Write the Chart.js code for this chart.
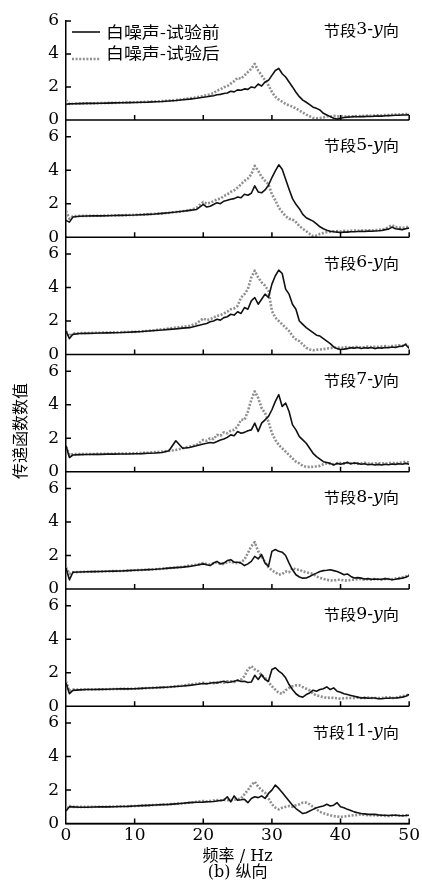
<!DOCTYPE html>
<html>
<head>
<meta charset="utf-8">
<script src="https://cdn.jsdelivr.net/npm/chart.js@4.4.0/dist/chart.umd.min.js"></script>
<style>
  html, body { margin: 0; padding: 0; background: #fff; }
  #grafico { position: relative; width: 422px; height: 887px; }
</style>
</head>
<body>
<div id="grafico"><canvas id="myChart"></canvas></div>
<script>
// frecuencias (Hz)
const freq = [0,0.5,1,2,3,4,5,6,7,8,9,10,11,12,13,14,15,16,17,18,19,20,
  20.5,21,21.5,22,22.5,23,23.5,24,24.5,25,
  25.5,26,26.5,27,27.5,28,28.5,29,29.5,30,
  30.5,31,31.5,32,32.5,33,33.5,34,34.5,35,
  35.5,36,36.5,37,37.5,38,38.5,39,39.5,40,
  40.5,41,41.5,42,42.5,43,43.5,44,44.5,45,
  45.5,46,46.5,47,47.5,48,48.5,49,49.5,50];

const panelNums = ["3", "5", "6", "7", "8", "9", "11"];
const legendLabels = ["白噪声-试验前", "白噪声-试验后"];
const xTicks = [0, 10, 20, 30, 40, 50];
const yTicks = [0, 2, 4, 6];

// 节段3
const s3Before = [0.95,0.97,0.98,0.99,1.0,1.0,1.01,1.02,1.03,1.04,1.05,1.06,1.07,1.08,1.1,1.12,1.15,1.18,1.22,1.26,1.31,1.37,
  1.4,1.44,1.47,1.53,1.55,1.6,1.63,1.74,1.7,1.82,
  1.8,1.88,1.85,2.0,1.95,2.18,2.05,2.3,2.4,2.7,
  3.0,3.13,2.8,2.6,2.3,2.0,1.68,1.41,1.2,1.07,
  0.93,0.77,0.7,0.6,0.4,0.3,0.2,0.1,0.06,0.1,
  0.15,0.17,0.18,0.2,0.19,0.21,0.2,0.22,0.21,0.23,
  0.24,0.23,0.25,0.26,0.27,0.28,0.28,0.3,0.3,0.32];
const s3After = [1.2,0.97,0.98,1.0,1.0,1.01,1.02,1.03,1.03,1.05,1.06,1.07,1.08,1.1,1.12,1.14,1.17,1.2,1.25,1.3,1.36,1.45,
  1.5,1.55,1.62,1.78,1.85,1.98,2.05,2.2,2.35,2.55,
  2.5,2.7,2.9,3.1,3.4,3.0,2.7,2.4,2.1,1.7,
  1.4,1.23,1.1,0.97,0.88,0.8,0.7,0.57,0.45,0.32,
  0.22,0.12,0.1,0.12,0.15,0.22,0.2,0.25,0.2,0.22,
  0.21,0.2,0.22,0.22,0.24,0.23,0.25,0.26,0.25,0.27,
  0.28,0.27,0.3,0.29,0.31,0.32,0.33,0.34,0.35,0.36];

// 节段5
const s5Before = [1.0,0.9,1.2,1.25,1.26,1.27,1.27,1.28,1.29,1.3,1.31,1.32,1.34,1.36,1.38,1.42,1.46,1.5,1.55,1.6,1.65,1.96,
  1.8,1.85,1.95,2.06,2.0,2.15,2.2,2.26,2.3,2.4,
  2.35,2.56,2.5,2.62,3.06,2.7,2.65,2.82,3.1,3.56,
  3.96,4.32,4.06,3.46,2.86,2.3,1.96,1.7,1.36,1.16,
  1.06,0.96,0.8,0.62,0.5,0.42,0.35,0.32,0.3,0.28,
  0.3,0.3,0.32,0.32,0.34,0.35,0.34,0.36,0.35,0.37,
  0.38,0.4,0.45,0.48,0.6,0.5,0.48,0.45,0.5,0.55];
const s5After = [1.56,1.1,1.25,1.27,1.27,1.28,1.28,1.29,1.3,1.31,1.32,1.33,1.35,1.37,1.4,1.42,1.45,1.5,1.55,1.6,1.75,2.1,
  2.0,2.05,2.15,2.26,2.3,2.46,2.55,2.7,2.8,2.96,
  3.16,3.36,3.5,3.76,4.26,3.96,3.6,3.36,3.16,2.56,
  2.2,1.76,1.5,1.26,1.1,1.06,0.9,0.66,0.5,0.36,
  0.2,0.06,0.1,0.2,0.25,0.3,0.32,0.35,0.36,0.35,
  0.38,0.36,0.38,0.4,0.38,0.4,0.4,0.42,0.4,0.42,
  0.43,0.45,0.5,0.6,0.72,0.6,0.58,0.55,0.6,0.6];

// 节段6
const s6Before = [1.4,0.95,1.2,1.25,1.26,1.27,1.28,1.29,1.3,1.31,1.33,1.35,1.37,1.4,1.43,1.46,1.5,1.53,1.57,1.6,1.7,1.8,
  1.85,1.95,2.0,2.1,2.05,2.2,2.25,2.4,2.35,2.55,
  2.45,2.8,2.7,3.2,3.4,3.0,3.3,3.6,3.4,4.2,
  4.7,5.03,4.83,3.9,3.6,3.0,2.7,2.0,1.8,1.6,
  1.45,1.3,1.15,1.1,0.95,0.8,0.65,0.45,0.35,0.3,
  0.32,0.35,0.4,0.38,0.42,0.36,0.4,0.38,0.42,0.35,
  0.4,0.38,0.42,0.4,0.45,0.42,0.48,0.5,0.6,0.35];
const s6After = [1.4,1.1,1.25,1.27,1.28,1.29,1.3,1.31,1.32,1.33,1.34,1.35,1.38,1.41,1.45,1.5,1.55,1.6,1.65,1.7,1.85,2.15,
  2.05,2.1,2.2,2.3,2.35,2.45,2.55,2.7,2.75,2.9,
  3.4,3.6,3.9,4.6,5.0,4.6,4.3,4.1,3.8,2.6,
  2.2,2.0,1.8,1.6,1.4,1.1,0.9,0.8,0.6,0.4,
  0.3,0.25,0.28,0.3,0.32,0.35,0.38,0.4,0.42,0.4,
  0.42,0.45,0.4,0.44,0.46,0.42,0.45,0.48,0.44,0.46,
  0.45,0.48,0.5,0.46,0.5,0.52,0.55,0.5,0.6,0.5];

// 节段7
const s7Before = [1.55,0.85,1.0,1.02,1.03,1.04,1.04,1.05,1.05,1.06,1.06,1.07,1.08,1.1,1.12,1.15,1.25,1.85,1.4,1.45,1.55,1.66,
  1.7,1.75,1.72,1.8,1.9,1.95,2.05,2.2,2.15,2.4,
  2.3,2.35,2.45,2.5,2.9,2.4,2.9,3.1,3.3,3.7,
  4.2,4.6,3.9,4.1,3.6,2.8,2.5,2.1,1.9,1.7,
  1.4,1.1,0.9,0.75,0.6,0.55,0.5,0.4,0.5,0.45,
  0.5,0.55,0.48,0.52,0.5,0.45,0.48,0.42,0.45,0.4,
  0.44,0.4,0.45,0.42,0.46,0.44,0.48,0.45,0.5,0.45];
const s7After = [1.5,1.0,1.05,1.05,1.06,1.06,1.07,1.07,1.08,1.09,1.09,1.1,1.12,1.14,1.17,1.2,1.25,1.3,1.4,1.5,1.6,1.9,
  1.85,2.0,1.95,2.2,2.15,2.35,2.3,2.45,2.5,2.7,
  3.1,3.1,3.6,4.3,4.8,4.4,3.8,3.5,3.0,2.3,
  1.9,1.6,1.4,1.2,1.0,0.8,0.6,0.5,0.35,0.3,
  0.28,0.3,0.32,0.35,0.45,0.5,0.48,0.45,0.5,0.52,
  0.5,0.55,0.5,0.52,0.48,0.5,0.53,0.5,0.48,0.5,
  0.52,0.5,0.48,0.5,0.55,0.5,0.52,0.55,0.6,0.55];

// 节段8
const s8Before = [1.25,0.55,1.0,1.02,1.03,1.04,1.05,1.06,1.07,1.08,1.1,1.12,1.14,1.16,1.18,1.21,1.25,1.28,1.31,1.35,1.42,1.5,
  1.45,1.4,1.55,1.65,1.5,1.55,1.7,1.75,1.6,1.6,
  1.55,1.4,1.5,1.65,1.95,1.8,2.05,1.55,1.35,2.25,
  2.36,2.25,2.2,2.0,1.55,1.15,0.85,0.72,0.65,0.66,
  0.75,0.86,0.95,1.05,1.1,1.12,1.15,1.1,1.05,0.96,
  0.85,0.9,0.75,0.66,0.68,0.65,0.6,0.62,0.58,0.6,
  0.58,0.58,0.62,0.6,0.55,0.58,0.62,0.65,0.7,0.8];
const s8After = [1.3,0.9,1.0,1.02,1.03,1.04,1.05,1.06,1.07,1.08,1.1,1.12,1.14,1.16,1.18,1.21,1.25,1.28,1.32,1.4,1.45,1.55,
  1.5,1.45,1.55,1.6,1.5,1.5,1.6,1.65,1.55,1.55,
  1.6,1.75,2.15,2.55,2.8,2.25,1.95,1.6,1.3,1.12,
  1.0,0.86,0.9,1.05,1.0,1.26,1.15,1.16,1.05,1.0,
  0.95,0.9,0.75,0.66,0.6,0.55,0.52,0.5,0.55,0.55,
  0.52,0.5,0.55,0.55,0.6,0.6,0.55,0.58,0.55,0.6,
  0.58,0.55,0.6,0.6,0.58,0.62,0.65,0.7,0.75,0.85];

// 节段9
const s9Before = [1.4,0.75,0.95,0.98,1.0,1.0,1.01,1.02,1.03,1.04,1.04,1.05,1.07,1.09,1.11,1.13,1.15,1.18,1.21,1.25,1.3,1.36,
  1.35,1.38,1.42,1.4,1.45,1.5,1.42,1.45,1.5,1.55,
  1.48,1.5,1.42,1.45,1.85,1.6,1.9,1.6,1.5,2.2,
  2.3,2.1,1.95,1.7,1.3,1.0,0.75,0.6,0.55,0.7,
  0.8,0.96,0.9,1.0,1.05,1.16,1.0,1.1,0.9,0.84,
  0.75,0.7,0.65,0.6,0.55,0.5,0.52,0.48,0.5,0.5,
  0.45,0.45,0.48,0.48,0.5,0.5,0.52,0.55,0.6,0.7];
const s9After = [1.5,0.9,1.0,1.0,1.01,1.01,1.02,1.02,1.03,1.04,1.04,1.05,1.07,1.09,1.11,1.13,1.15,1.19,1.23,1.3,1.35,1.4,
  1.35,1.4,1.38,1.42,1.45,1.4,1.5,1.5,1.45,1.55,
  1.6,1.8,2.2,2.4,2.2,2.1,1.85,1.7,1.45,1.2,
  1.0,0.8,0.75,0.96,1.1,1.2,1.25,1.25,1.15,1.05,
  0.95,0.75,0.65,0.6,0.55,0.5,0.52,0.5,0.48,0.45,
  0.48,0.5,0.5,0.5,0.52,0.5,0.5,0.52,0.5,0.5,
  0.5,0.5,0.52,0.55,0.5,0.5,0.55,0.6,0.65,0.7];

// 节段11
const s11Before = [0.75,1.0,1.0,0.98,0.98,0.99,1.0,1.0,1.01,1.02,1.03,1.05,1.07,1.09,1.11,1.13,1.15,1.18,1.21,1.25,1.27,1.28,
  1.3,1.3,1.32,1.35,1.38,1.4,1.6,1.3,1.65,1.4,
  1.42,1.45,1.25,1.5,1.6,1.55,1.65,1.5,1.8,2.0,
  2.3,2.1,1.85,1.6,1.35,1.1,0.9,0.75,0.6,0.65,
  0.75,0.85,0.95,1.0,1.05,1.15,1.05,1.1,1.25,1.0,
  0.95,0.85,0.78,0.7,0.65,0.6,0.58,0.55,0.55,0.55,
  0.52,0.5,0.5,0.48,0.5,0.5,0.48,0.47,0.48,0.5];
const s11After = [0.95,1.05,1.0,1.0,1.0,1.0,1.01,1.01,1.02,1.03,1.04,1.05,1.07,1.09,1.11,1.13,1.15,1.18,1.21,1.25,1.3,1.35,
  1.32,1.35,1.38,1.4,1.38,1.42,1.4,1.4,1.42,1.45,
  1.5,1.75,2.0,2.3,2.5,2.2,2.0,1.85,1.5,1.15,
  0.95,0.85,0.95,1.0,1.05,1.0,1.1,1.15,1.25,1.25,
  1.15,1.0,0.85,0.7,0.62,0.55,0.5,0.45,0.42,0.4,
  0.42,0.45,0.48,0.5,0.52,0.55,0.52,0.5,0.5,0.5,
  0.48,0.48,0.46,0.45,0.48,0.5,0.48,0.48,0.5,0.5];

const seriesBefore = [s3Before, s5Before, s6Before, s7Before, s8Before, s9Before, s11Before];
const seriesAfter = [s3After, s5After, s6After, s7After, s8After, s9After, s11After];

const fuenteNum = "'DejaVu Serif', 'Noto Sans CJK SC', serif";
const fuenteCJK = "'Noto Sans CJK SC', sans-serif";

function aPuntos(valores) {
  return freq.map((f, k) => ({ x: f, y: valores[k] }));
}

// texto con estiramiento horizontal, alineado a la izquierda
function textoEstirado(ctx, partes, x, y, sx) {
  ctx.save();
  ctx.translate(x, y);
  ctx.scale(sx, 1);
  let cx = 0;
  partes.forEach((p) => {
    ctx.font = p.font;
    ctx.fillText(p.text, cx, 0);
    cx += ctx.measureText(p.text).width;
  });
  ctx.restore();
}
function anchoTexto(ctx, partes, sx) {
  let w = 0;
  partes.forEach((p) => { ctx.font = p.font; w += ctx.measureText(p.text).width; });
  return w * sx;
}

const datasets = [];
panelNums.forEach((n, i) => {
  datasets.push({
    label: legendLabels[0],
    data: aPuntos(seriesBefore[i]),
    yAxisID: "y" + i,
    borderColor: "#111",
    borderWidth: 1.6,
    pointRadius: 0,
    order: 0
  });
  datasets.push({
    label: legendLabels[1],
    data: aPuntos(seriesAfter[i]),
    yAxisID: "y" + i,
    borderColor: "#8f8f8f",
    borderWidth: 2.6,
    borderDash: [2, 1.6],
    pointRadius: 0,
    order: 1
  });
});

const scales = {
  x: {
    type: "linear",
    position: "bottom",
    min: 0,
    max: 50,
    afterBuildTicks: (s) => { s.ticks = xTicks.map((v) => ({ value: v })); },
    ticks: { color: "#000", padding: 2, autoSkip: false, maxRotation: 0, font: { family: fuenteNum, size: 17 } },
    grid: { display: false, drawTicks: false },
    border: { color: "#000", width: 1.5 },
    title: {
      display: true,
      text: ["频率 / Hz", "(b) 纵向"],
      color: "#000",
      font: { family: fuenteNum, size: 16, lineHeight: 1.0 },
      padding: { top: 1, bottom: 0 }
    }
  }
};
panelNums.forEach((n, i) => {
  scales["y" + i] = {
    type: "linear",
    position: "left",
    stack: "paneles",
    stackWeight: i === 0 ? 99 : 117.4,
    weight: 10 - i,
    min: 0,
    max: i === 0 ? 6 : 7,
    afterBuildTicks: (s) => { s.ticks = yTicks.map((v) => ({ value: v })); },
    afterFit: (s) => { s.width = 66; },
    ticks: { color: "#000", padding: 7, autoSkip: false, font: { family: fuenteNum, size: 17 } },
    grid: { display: false, drawTicks: false },
    border: { color: "#000", width: 1.5 }
  };
});

const marcas = {
  id: "marcas",
  afterDraw(chart) {
    const ctx = chart.ctx;
    const xs = chart.scales.x;
    ctx.save();
    ctx.strokeStyle = "#000";
    ctx.lineWidth = 1.5;
    ctx.fillStyle = "#000";
    panelNums.forEach((n, i) => {
      const ys = chart.scales["y" + i];
      const y0 = ys.getPixelForValue(0);
      ctx.beginPath();
      ctx.moveTo(xs.left, y0);
      ctx.lineTo(xs.right, y0);
      xTicks.slice(1).forEach((v) => {
        const px = xs.getPixelForValue(v);
        ctx.moveTo(px, y0);
        ctx.lineTo(px, y0 - 5);
      });
      yTicks.slice(1).forEach((v) => {
        const py = ys.getPixelForValue(v);
        ctx.moveTo(xs.left, py);
        ctx.lineTo(xs.left + 5, py);
      });
      ctx.stroke();

      // etiqueta del panel
      const partes = [
        { text: "节段", font: "15px " + fuenteCJK },
        { text: n + "-", font: "16px " + fuenteNum },
        { text: "y", font: "italic 16px " + fuenteNum },
        { text: "向", font: "15px " + fuenteCJK }
      ];
      ctx.textBaseline = "middle";
      const w = anchoTexto(ctx, partes, 1.08);
      textoEstirado(ctx, partes, 399 - w, ys.getPixelForValue(6) + 9, 1.08);
    });

    // leyenda
    const yl1 = 32, yl2 = 53;
    const d0 = chart.data.datasets[0], d1 = chart.data.datasets[1];
    ctx.beginPath();
    ctx.strokeStyle = d0.borderColor;
    ctx.lineWidth = d0.borderWidth;
    ctx.moveTo(72, yl1);
    ctx.lineTo(100, yl1);
    ctx.stroke();
    ctx.beginPath();
    ctx.strokeStyle = d1.borderColor;
    ctx.lineWidth = d1.borderWidth;
    ctx.setLineDash(d1.borderDash);
    ctx.moveTo(72, yl2 + 6);
    ctx.lineTo(100, yl2 + 6);
    ctx.stroke();
    ctx.setLineDash([]);
    ctx.textBaseline = "middle";
    textoEstirado(ctx, [{ text: d0.label, font: "16px " + fuenteCJK }], 106, yl1, 1.12);
    textoEstirado(ctx, [{ text: d1.label, font: "16px " + fuenteCJK }], 106, yl2, 1.12);

    // titulo del eje y
    ctx.save();
    ctx.translate(20, 431);
    ctx.rotate(-Math.PI / 2);
    ctx.textAlign = "center";
    ctx.textBaseline = "middle";
    ctx.font = "16px " + fuenteCJK;
    ctx.fillText("传递函数数值", 0, 0);
    ctx.restore();
    ctx.restore();
  }
};

new Chart(document.getElementById("myChart"), {
  type: "line",
  data: { datasets },
  options: {
    responsive: true,
    maintainAspectRatio: false,
    animation: false,
    layout: { padding: { top: 21, right: 11, left: 0, bottom: 6 } },
    elements: { line: { tension: 0, borderJoinStyle: "round" } },
    plugins: { legend: { display: false }, tooltip: { enabled: false } },
    scales
  },
  plugins: [marcas]
});
</script>
</body>
</html>
